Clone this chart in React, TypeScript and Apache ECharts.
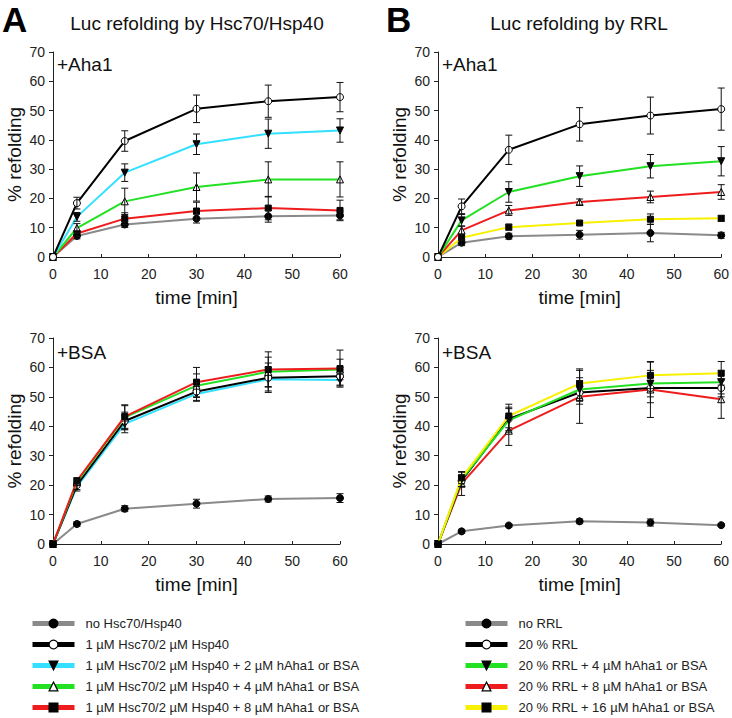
import React, { useEffect, useRef } from "react";
import * as echarts from "echarts";

const times = [0, 5, 15, 30, 45, 60];

// Panel A, +Aha1
const aAhaNone = [0, 7.2, 11.1, 13.1, 13.9, 14.2];
const aAhaNoneErr = [0, 1, 1, 1.5, 2, 1.5];
const aAhaHsc = [0, 18.4, 39.6, 50.6, 53.2, 54.6];
const aAhaHscErr = [0, 2, 3.5, 4.7, 5.5, 5];
const aAha2 = [0, 13.7, 28.8, 38.5, 42.1, 43.2];
const aAha2Err = [0, 1.5, 3, 3.5, 5, 4];
const aAha4 = [0, 9.9, 19, 23.9, 26.5, 26.5];
const aAha4Err = [0, 1.5, 4.5, 4.8, 6, 6];
const aAha8 = [0, 8, 13.1, 15.7, 16.7, 15.9];
const aAha8Err = [0, 1, 2, 3, 4, 3.5];

// Panel A, +BSA
const aBsaNone = [0, 6.8, 12, 13.7, 15.3, 15.6];
const aBsaNoneErr = [0, 0.8, 1, 1.5, 1, 1.5];
const aBsaHsc = [0, 20, 41.8, 51.8, 56.5, 57];
const aBsaHscErr = [0, 1.5, 3, 3, 5, 3];
const aBsa2 = [0, 19.5, 40.8, 51, 56, 55.7];
const aBsa2Err = [0, 1.5, 3, 2.5, 4, 2];
const aBsa4 = [0, 21, 43, 53.8, 58.5, 59.3];
const aBsa4Err = [0, 1, 4, 4, 5, 3.5];
const aBsa8 = [0, 21.5, 43.3, 55, 59.3, 59.6];
const aBsa8Err = [0, 1, 4, 5, 6, 6.3];

// Panel B, +Aha1
const bAhaNone = [0, 4.9, 7.1, 7.6, 8.2, 7.4];
const bAhaNoneErr = [0, 1, 1, 1.5, 3, 1];
const bAhaRrl = [0, 17.3, 36.6, 45.3, 48.3, 50.5];
const bAhaRrlErr = [0, 2.5, 5, 5.7, 6.3, 7.2];
const bAha4 = [0, 12.5, 22.2, 27.6, 31, 32.7];
const bAha4Err = [0, 2, 3.5, 3.5, 4, 5];
const bAha8 = [0, 9.1, 15.9, 18.8, 20.5, 22.2];
const bAha8Err = [0, 1.5, 1.7, 1, 2, 2.5];
const bAha16 = [0, 6.6, 10.2, 11.6, 12.9, 13.2];
const bAha16Err = [0, 1, 1, 0.8, 1.8, 1];

// Panel B, +BSA
const bBsaNone = [0, 4.3, 6.3, 7.7, 7.3, 6.4];
const bBsaNoneErr = [0, 0.7, 0.5, 0.8, 1.2, 0.5];
const bBsaRrl = [0, 21.5, 42.5, 51.5, 53, 53];
const bBsaRrlErr = [0, 2, 4, 4, 5, 3];
const bBsa4 = [0, 22, 42, 52.5, 54.5, 55];
const bBsa4Err = [0, 2.5, 4, 4, 4.5, 4];
const bBsa8 = [0, 20.5, 38.5, 50, 52.5, 49.2];
const bBsa8Err = [0, 4, 5, 9, 9.5, 6.5];
const bBsa16 = [0, 22.5, 43.5, 54.5, 57.3, 58];
const bBsa16Err = [0, 2, 4, 5, 4.5, 4];

const legendA = [
  "no Hsc70/Hsp40",
  "1 µM Hsc70/2 µM Hsp40",
  "1 µM Hsc70/2 µM Hsp40 + 2 µM hAha1 or BSA",
  "1 µM Hsc70/2 µM Hsp40 + 4 µM hAha1 or BSA",
  "1 µM Hsc70/2 µM Hsp40 + 8 µM hAha1 or BSA",
];
const legendB = [
  "no RRL",
  "20 % RRL",
  "20 % RRL + 4 µM hAha1 or BSA",
  "20 % RRL + 8 µM hAha1 or BSA",
  "20 % RRL + 16 µM hAha1 or BSA",
];

const GRAY = "#8a8a8a";
const CYAN = "#33e0ff";
const GREEN = "#22e022";
const RED = "#ee1c1c";
const YELLOW = "#f7f000";

type Mk = { symbol: string; fill: string; rotate: number };
const mkFilledCircle: Mk = { symbol: "circle", fill: "#000", rotate: 0 };
const mkOpenCircle: Mk = { symbol: "circle", fill: "#fff", rotate: 0 };
const mkDownTri: Mk = { symbol: "triangle", fill: "#000", rotate: 180 };
const mkOpenTri: Mk = { symbol: "triangle", fill: "#fff", rotate: 0 };
const mkSquare: Mk = { symbol: "rect", fill: "#000", rotate: 0 };

const FONT = "Liberation Sans, Arial, sans-serif";

function lineSeries(gi: number, name: string, vals: number[], color: string, mk: Mk, z: number) {
  return {
    type: "line",
    name,
    xAxisIndex: gi,
    yAxisIndex: gi,
    data: times.map((t, i) => [t, vals[i]]),
    symbol: mk.symbol,
    symbolSize: mk.symbol === "rect" ? 6 : 7,
    symbolRotate: mk.rotate,
    showAllSymbol: true,
    lineStyle: { color, width: 2 },
    itemStyle: { color: mk.fill, borderColor: "#000", borderWidth: 1 },
    z,
    silent: true,
  };
}

function errSeries(gi: number, vals: number[], errs: number[]) {
  const data: number[][] = [];
  times.forEach((t, i) => {
    if (errs[i] > 0) data.push([t, vals[i] - errs[i], vals[i] + errs[i]]);
  });
  return {
    type: "custom",
    xAxisIndex: gi,
    yAxisIndex: gi,
    data,
    encode: { x: 0, y: [1, 2] },
    z: 5,
    silent: true,
    renderItem: (_p: any, api: any) => {
      const lo = api.coord([api.value(0), api.value(1)]);
      const hi = api.coord([api.value(0), api.value(2)]);
      const w = 3.5;
      const st = { stroke: "#111", lineWidth: 1 };
      return {
        type: "group",
        children: [
          { type: "line", shape: { x1: lo[0], y1: lo[1], x2: hi[0], y2: hi[1] }, style: st },
          { type: "line", shape: { x1: lo[0] - w, y1: lo[1], x2: lo[0] + w, y2: lo[1] }, style: st },
          { type: "line", shape: { x1: hi[0] - w, y1: hi[1], x2: hi[0] + w, y2: hi[1] }, style: st },
        ],
      };
    },
  };
}

function panel(gi: number, rows: [string, number[], number[], string, Mk][]) {
  const out: any[] = [];
  rows.forEach((r, k) => {
    out.push(lineSeries(gi, r[0], r[1], r[3], r[4], 2 + k * 0.01));
  });
  rows.forEach((r) => out.push(errSeries(gi, r[1], r[2])));
  return out;
}

export default function App() {
  const ref = useRef<HTMLDivElement>(null);
  useEffect(() => {
    if (!ref.current) return;
    const chart = echarts.init(ref.current, undefined, { renderer: "svg" });

    const grids = [
      { left: 53, top: 52, width: 287, height: 205 },
      { left: 438, top: 52, width: 286, height: 205 },
      { left: 53, top: 338, width: 287, height: 206 },
      { left: 438, top: 338, width: 286, height: 206 },
    ];
    const axisText = { fontFamily: FONT, fontSize: 14, color: "#222" };
    const xAxes = grids.map((_, i) => ({
      type: "value",
      gridIndex: i,
      min: 0,
      max: 60,
      interval: 10,
      name: "time [min]",
      nameLocation: "middle",
      nameGap: 31,
      nameTextStyle: { fontFamily: FONT, fontSize: 19, color: "#111" },
      axisLine: { show: true, lineStyle: { color: "#222", width: 1 } },
      axisTick: { show: true, inside: true, length: 3, lineStyle: { color: "#222" } },
      axisLabel: { ...axisText, margin: 10 },
      splitLine: { show: false },
    }));
    const yAxes = grids.map((_, i) => ({
      type: "value",
      gridIndex: i,
      min: 0,
      max: 70,
      interval: 10,
      name: "% refolding",
      nameLocation: "middle",
      nameGap: 29,
      nameRotate: 90,
      nameTextStyle: { fontFamily: FONT, fontSize: 19, color: "#111" },
      axisLine: { show: true, lineStyle: { color: "#222", width: 1 } },
      axisTick: { show: true, inside: false, length: 4, lineStyle: { color: "#222" } },
      axisLabel: { ...axisText, margin: 8 },
      splitLine: { show: false },
    }));

    const series = [
      ...panel(0, [
        [legendA[0], aAhaNone, aAhaNoneErr, GRAY, mkFilledCircle],
        [legendA[4], aAha8, aAha8Err, RED, mkSquare],
        [legendA[3], aAha4, aAha4Err, GREEN, mkOpenTri],
        [legendA[2], aAha2, aAha2Err, CYAN, mkDownTri],
        [legendA[1], aAhaHsc, aAhaHscErr, "#000", mkOpenCircle],
      ]),
      ...panel(2, [
        [legendA[0], aBsaNone, aBsaNoneErr, GRAY, mkFilledCircle],
        [legendA[2], aBsa2, aBsa2Err, CYAN, mkDownTri],
        [legendA[1], aBsaHsc, aBsaHscErr, "#000", mkOpenCircle],
        [legendA[3], aBsa4, aBsa4Err, GREEN, mkOpenTri],
        [legendA[4], aBsa8, aBsa8Err, RED, mkSquare],
      ]),
      ...panel(1, [
        [legendB[0], bAhaNone, bAhaNoneErr, GRAY, mkFilledCircle],
        [legendB[4], bAha16, bAha16Err, YELLOW, mkSquare],
        [legendB[3], bAha8, bAha8Err, RED, mkOpenTri],
        [legendB[2], bAha4, bAha4Err, GREEN, mkDownTri],
        [legendB[1], bAhaRrl, bAhaRrlErr, "#000", mkOpenCircle],
      ]),
      ...panel(3, [
        [legendB[0], bBsaNone, bBsaNoneErr, GRAY, mkFilledCircle],
        [legendB[3], bBsa8, bBsa8Err, RED, mkOpenTri],
        [legendB[1], bBsaRrl, bBsaRrlErr, "#000", mkOpenCircle],
        [legendB[2], bBsa4, bBsa4Err, GREEN, mkDownTri],
        [legendB[4], bBsa16, bBsa16Err, YELLOW, mkSquare],
      ]),
    ];

    const legendCommon = {
      type: "plain",
      orient: "vertical",
      top: 617,
      height: 110,
      itemWidth: 42,
      itemHeight: 11,
      itemGap: 8,
      padding: 0,
      selectedMode: false,
      textStyle: { fontFamily: FONT, fontSize: 13, color: "#222", padding: [0, 0, 0, 6] },
      lineStyle: { width: 5 },
      itemStyle: { borderWidth: 1.2 },
    };

    const titleStyle = { fontFamily: FONT, fontSize: 19, fill: "#111" };
    chart.setOption({
      animation: false,
      backgroundColor: "#fff",
      grid: grids,
      xAxis: xAxes,
      yAxis: yAxes,
      series,
      legend: [
        { ...legendCommon, left: 30, data: legendA },
        { ...legendCommon, left: 463, data: legendB },
      ],
      graphic: [
        { type: "text", left: 2, top: 2, style: { text: "A", fontFamily: FONT, fontSize: 35, fontWeight: "bold", fill: "#000" } },
        { type: "text", left: 386, top: 2, style: { text: "B", fontFamily: FONT, fontSize: 35, fontWeight: "bold", fill: "#000" } },
        { type: "text", x: 197, y: 23, style: { ...titleStyle, text: "Luc refolding by Hsc70/Hsp40", align: "center", verticalAlign: "middle" } },
        { type: "text", x: 579, y: 23, style: { ...titleStyle, text: "Luc refolding by RRL", align: "center", verticalAlign: "middle" } },
        { type: "text", x: 57, y: 64, style: { ...titleStyle, text: "+Aha1", verticalAlign: "middle" } },
        { type: "text", x: 442, y: 64, style: { ...titleStyle, text: "+Aha1", verticalAlign: "middle" } },
        { type: "text", x: 57, y: 352, style: { ...titleStyle, text: "+BSA", verticalAlign: "middle" } },
        { type: "text", x: 442, y: 352, style: { ...titleStyle, text: "+BSA", verticalAlign: "middle" } },
      ],
    });
    return () => chart.dispose();
  }, []);
  return (
    <div
      ref={ref}
      style={{ position: "fixed", left: 0, top: 0, width: 732, height: 718, background: "#fff" }}
    />
  );
}
